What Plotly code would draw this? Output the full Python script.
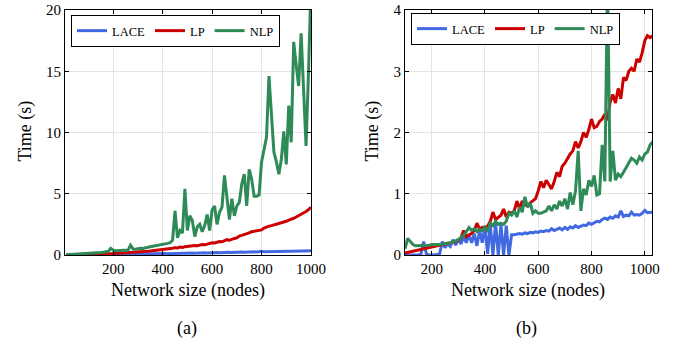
import plotly.graph_objects as go

# ---------------- data ----------------
x_a = list(range(10, 1001, 10))
lace_a = [0.00,0.00,0.01,0.01,0.01,0.01,0.02,0.02,0.02,0.02,
          0.03,0.03,0.03,0.03,0.04,0.04,0.04,0.04,0.05,0.05,
          0.05,0.06,0.05,0.06,0.06,0.07,0.06,0.07,0.07,0.08,
          0.08,0.08,0.09,0.09,0.10,0.09,0.10,0.11,0.10,0.11,
          0.12,0.11,0.12,0.13,0.12,0.14,0.13,0.14,0.15,0.14,
          0.15,0.16,0.15,0.17,0.16,0.17,0.18,0.17,0.19,0.18,
          0.19,0.20,0.19,0.21,0.20,0.21,0.22,0.21,0.23,0.22,
          0.23,0.24,0.23,0.25,0.24,0.25,0.26,0.25,0.27,0.31,
          0.26,0.27,0.28,0.27,0.28,0.29,0.28,0.30,0.29,0.30,
          0.31,0.30,0.32,0.31,0.32,0.33,0.32,0.34,0.33,0.35]
lp_a = [0.00,0.00,0.00,0.01,0.01,0.01,0.02,0.02,0.03,0.03,
        0.04,0.04,0.05,0.06,0.06,0.07,0.08,0.09,0.10,0.11,
        0.12,0.13,0.14,0.15,0.17,0.18,0.19,0.21,0.22,0.24,
        0.25,0.27,0.29,0.30,0.32,0.34,0.36,0.38,0.40,0.45,
        0.47,0.50,0.48,0.55,0.60,0.58,0.65,0.62,0.68,0.72,
        0.70,0.75,0.78,0.76,0.82,0.85,0.83,0.90,0.95,1.00,
        0.98,1.05,1.10,1.08,1.15,1.25,1.20,1.30,1.35,1.40,
        1.55,1.60,1.65,1.70,1.80,1.90,1.95,2.00,2.05,2.05,
        2.20,2.30,2.35,2.40,2.45,2.55,2.60,2.65,2.70,2.75,
        2.85,2.90,3.00,3.10,3.20,3.30,3.40,3.55,3.70,3.90]
nlp_a = [0.02,0.03,0.04,0.05,0.06,0.07,0.08,0.09,0.10,0.12,
         0.13,0.15,0.17,0.19,0.21,0.23,0.26,0.30,0.55,0.40,
         0.35,0.36,0.34,0.38,0.37,0.40,0.80,0.50,0.48,0.52,
         0.55,0.53,0.60,0.62,0.68,0.72,0.75,0.78,0.80,0.85,
         0.88,0.95,1.00,1.20,3.60,1.40,2.00,1.80,5.40,2.00,
         3.20,2.80,1.50,2.30,2.50,1.90,2.40,3.30,2.00,3.70,
         4.00,2.50,3.50,3.90,6.50,4.50,2.90,4.60,3.20,4.00,
         4.30,5.80,6.60,4.00,7.00,6.20,4.80,4.80,4.90,7.60,
         8.50,9.60,14.60,11.00,8.40,7.60,6.60,7.80,10.10,7.40,
         12.20,9.20,17.40,15.50,13.80,18.10,13.00,8.90,15.00,22.00]

x_b = list(range(100, 1031, 10))
lace_b = [0.00,0.00,0.00,0.00,0.01,0.00,0.02,0.22,0.02,0.00,
          0.00,0.00,0.01,0.02,0.22,0.12,0.18,0.14,0.25,0.16,
          0.26,0.18,0.30,0.20,0.33,0.20,0.35,0.15,0.40,0.20,
          0.48,0.02,0.50,0.00,0.52,0.00,0.50,0.00,0.48,0.00,
          0.33,0.33,0.34,0.35,0.34,0.36,0.35,0.37,0.36,0.38,
          0.37,0.39,0.38,0.40,0.39,0.43,0.40,0.42,0.44,0.41,
          0.45,0.42,0.46,0.44,0.48,0.45,0.47,0.49,0.48,0.52,
          0.50,0.53,0.55,0.54,0.58,0.60,0.58,0.62,0.60,0.64,
          0.62,0.72,0.63,0.65,0.64,0.70,0.65,0.66,0.65,0.68,
          0.73,0.69,0.70,0.70]
lp_b = [0.03,0.04,0.05,0.06,0.07,0.08,0.09,0.10,0.11,0.12,
        0.13,0.13,0.14,0.15,0.16,0.17,0.18,0.19,0.21,0.22,
        0.24,0.28,0.40,0.30,0.33,0.35,0.40,0.52,0.42,0.45,
        0.44,0.47,0.55,0.70,0.58,0.62,0.65,0.75,0.62,0.70,
        0.68,0.72,0.88,0.75,0.88,0.82,0.80,0.85,0.88,0.92,
        1.05,1.20,1.10,1.22,1.15,1.08,1.20,1.35,1.28,1.45,
        1.50,1.58,1.65,1.70,1.85,1.75,1.85,2.00,1.92,2.05,
        2.22,2.08,2.10,2.18,2.22,2.30,2.20,2.50,2.62,2.48,
        2.72,2.55,2.90,2.85,3.00,3.05,3.00,3.20,3.15,3.30,
        3.50,3.58,3.55,3.58]
nlp_b = [0.10,0.27,0.22,0.17,0.15,0.15,0.15,0.16,0.16,0.16,
         0.17,0.17,0.16,0.17,0.18,0.18,0.19,0.20,0.21,0.23,
         0.25,0.28,0.32,0.38,0.45,0.40,0.43,0.38,0.42,0.40,
         0.45,0.40,0.52,0.48,0.55,0.50,0.52,0.50,0.55,0.68,
         0.65,0.72,0.62,0.78,0.70,0.95,0.78,0.85,0.68,0.72,
         0.68,0.68,0.70,0.72,0.80,0.72,0.82,0.75,0.88,0.80,
         0.92,0.75,1.02,0.82,1.05,1.70,0.72,1.08,0.98,1.22,
         1.12,1.30,0.98,1.00,1.80,1.20,4.50,1.20,1.70,1.22,
         1.32,1.28,1.35,1.42,1.50,1.58,1.55,1.50,1.60,1.55,
         1.65,1.68,1.80,1.85]

names = ["LACE", "LP", "NLP"]
colors = ["#4169E1", "#CC0000", "#2E8B57"]

FONT = "Liberation Serif, Times New Roman, serif"

fig = go.Figure()
for nm, col, ys in zip(names, colors, [lace_a, lp_a, nlp_a]):
    fig.add_trace(go.Scatter(x=x_a, y=ys, mode="lines", name=nm,
                             line=dict(color=col, width=3),
                             xaxis="x", yaxis="y", legend="legend"))
for nm, col, ys in zip(names, colors, [lace_b, lp_b, nlp_b]):
    fig.add_trace(go.Scatter(x=x_b, y=ys, mode="lines", name=nm,
                             line=dict(color=col, width=3),
                             xaxis="x2", yaxis="y2", legend="legend2"))

W, H = 685, 350
def px(v): return v / W
def py(v): return 1 - v / H

axis_common = dict(showline=True, linecolor="black", linewidth=1, mirror="allticks",
                   ticks="inside", ticklen=4, tickcolor="black", tickwidth=1,
                   showgrid=True, gridcolor="#e4e4e4", gridwidth=1, zeroline=False,
                   automargin=False, ticklabeloverflow="allow",
                   tickfont=dict(family=FONT, size=15, color="black"))

leg_common = dict(xanchor="left", yanchor="top", orientation="h",
                  bordercolor="black", borderwidth=1, bgcolor="white",
                  font=dict(family=FONT, size=12.5, color="black"), tracegroupgap=0,
                  itemwidth=30)

fig.update_layout(
    width=W, height=H, margin=dict(l=0, r=0, t=0, b=0, pad=0, autoexpand=False),
    autosize=False,
    paper_bgcolor="white", plot_bgcolor="white",
    font=dict(family=FONT, color="black"),
    xaxis=dict(domain=[px(65), px(311)], range=[5, 1000], tickvals=[200, 400, 600, 800, 1000],
               anchor="y", **axis_common),
    yaxis=dict(domain=[py(255), py(10)], range=[0, 20], dtick=5, anchor="x", **axis_common),
    xaxis2=dict(domain=[px(405), px(652)], range=[100, 1027], tickvals=[200, 400, 600, 800, 1000],
                anchor="y2", **axis_common),
    yaxis2=dict(domain=[py(255), py(10)], range=[0, 4], dtick=1, anchor="x2", **axis_common),
    legend=dict(x=px(71), y=py(15), **leg_common),
    legend2=dict(x=px(411), y=py(13), **leg_common),
)

annos = [
    dict(text="Network size (nodes)", x=px(188), y=py(290), size=18),
    dict(text="Network size (nodes)", x=px(528), y=py(290), size=18),
    dict(text="Time (s)", x=px(24.5), y=py(131), textangle=-90, size=18),
    dict(text="Time (s)", x=px(371.5), y=py(131), textangle=-90, size=18),
    dict(text="(a)", x=px(187), y=py(328), size=18),
    dict(text="(b)", x=px(526), y=py(328), size=18),
]
for a in annos:
    fig.add_annotation(xref="paper", yref="paper", showarrow=False,
                       xanchor="center", yanchor="middle",
                       font=dict(family=FONT, color="black", size=a["size"]),
                       text=a["text"], x=a["x"], y=a["y"], textangle=a.get("textangle", 0))

# remove the default 8px page margin so the figure sits at the window origin
fig.write_html("out.html", config={"displayModeBar": False},
               post_script="document.body.style.margin='0';")
